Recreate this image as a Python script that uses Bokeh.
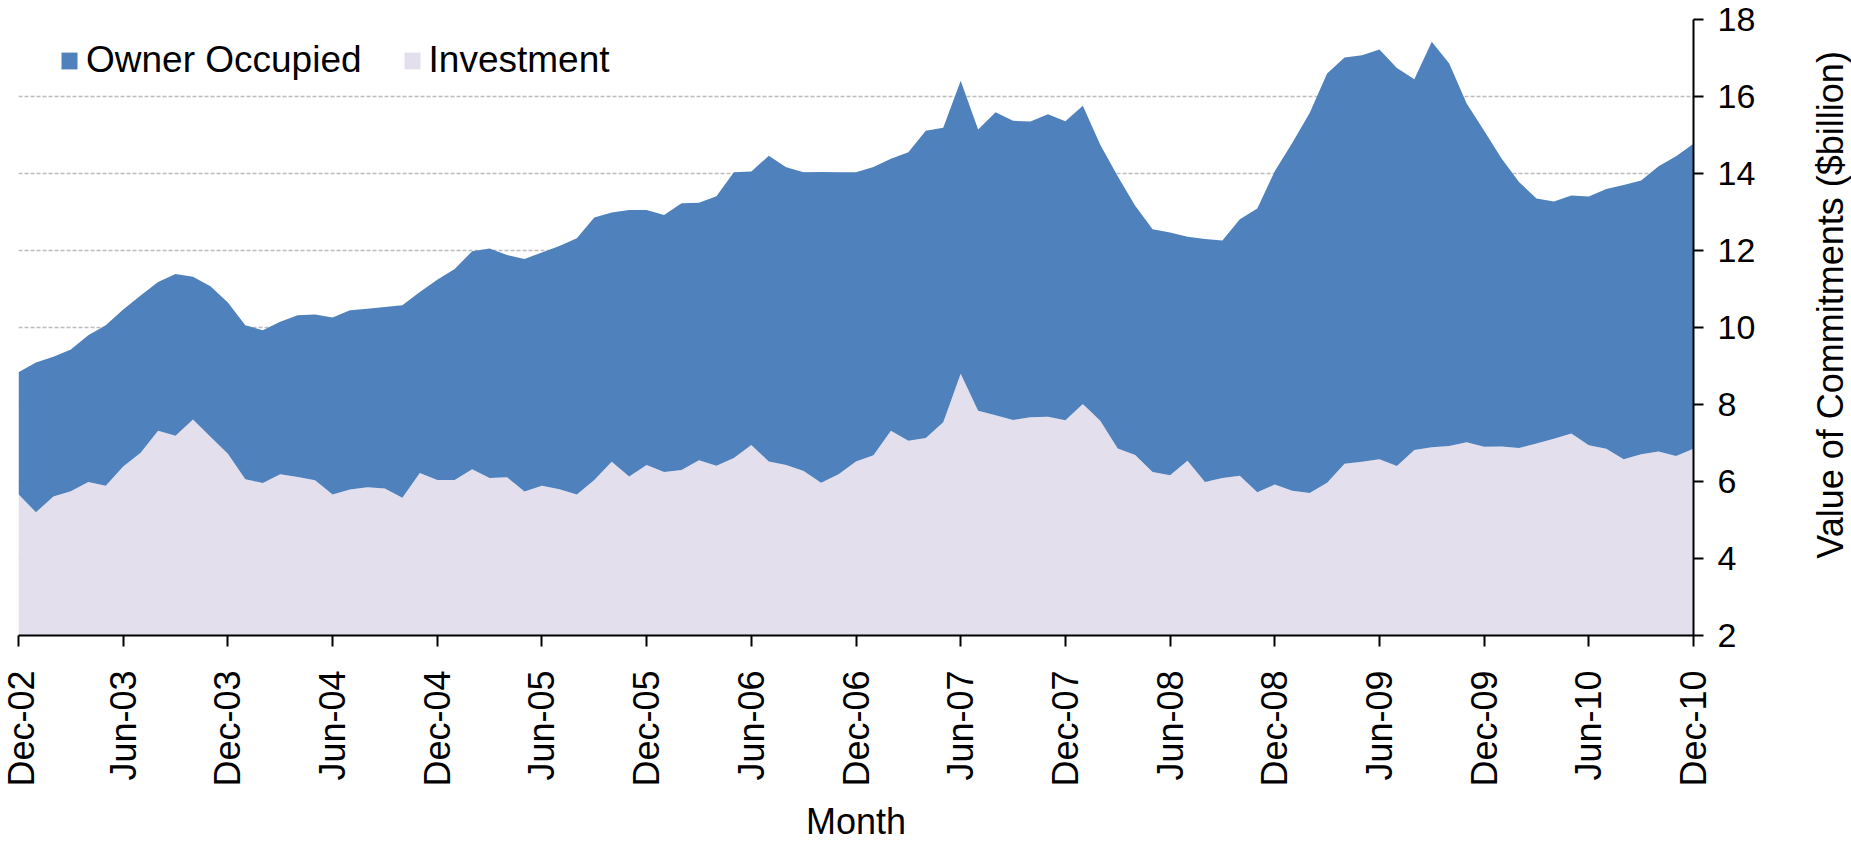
import math
from bokeh.plotting import figure
from bokeh.layouts import row
from bokeh.models import ColumnDataSource, Range1d, FixedTicker, Legend, LegendItem
from bokeh.embed import file_html
from bokeh.resources import INLINE

# ---- data (monthly, Dec-02 .. Dec-10), $billion ----
tick_labels = ["Dec-02", "Jun-03", "Dec-03", "Jun-04", "Dec-04", "Jun-05", "Dec-05",
               "Jun-06", "Dec-06", "Jun-07", "Dec-07", "Jun-08", "Dec-08", "Jun-09",
               "Dec-09", "Jun-10", "Dec-10"]

investment = [
    5.67, 5.20, 5.61, 5.75, 5.99, 5.89, 6.39, 6.75, 7.32, 7.19,
    7.61, 7.16, 6.72, 6.06, 5.96, 6.19, 6.12, 6.03, 5.66, 5.79,
    5.85, 5.82, 5.58, 6.22, 6.04, 6.04, 6.32, 6.09, 6.11, 5.74,
    5.89, 5.80, 5.66, 6.04, 6.51, 6.13, 6.43, 6.25, 6.30, 6.55,
    6.41, 6.61, 6.95, 6.52, 6.43, 6.27, 5.97, 6.19, 6.52, 6.68,
    7.32, 7.06, 7.13, 7.54, 8.80, 7.84, 7.72, 7.60, 7.67, 7.68,
    7.59, 8.01, 7.58, 6.86, 6.69, 6.25, 6.16, 6.54, 5.99, 6.09,
    6.15, 5.72, 5.92, 5.76, 5.70, 5.97, 6.46, 6.51, 6.58, 6.40,
    6.82, 6.89, 6.92, 7.02, 6.90, 6.91, 6.87, 6.99, 7.11, 7.25,
    6.94, 6.85, 6.58, 6.71, 6.78, 6.66, 6.85]

owner_occupied = [
    3.17, 3.89, 3.63, 3.68, 3.81, 4.17, 4.08, 4.08, 3.86, 4.20,
    3.71, 3.91, 3.93, 4.00, 3.97, 3.96, 4.20, 4.31, 4.60, 4.66,
    4.64, 4.71, 5.00, 4.70, 5.20, 5.48, 5.66, 5.96, 5.77, 6.04,
    6.06, 6.32, 6.66, 6.82, 6.48, 6.92, 6.62, 6.67, 6.93, 6.69,
    7.00, 7.42, 7.10, 7.94, 7.73, 7.76, 8.07, 7.84, 7.51, 7.49,
    7.06, 7.49, 7.98, 7.65, 7.61, 7.30, 7.87, 7.77, 7.68, 7.86,
    7.77, 7.75, 7.17, 7.07, 6.47, 6.30, 6.31, 5.82, 6.31, 6.17,
    6.66, 7.37, 8.14, 9.03, 9.87, 10.63, 10.55, 10.56, 10.64, 10.34,
    9.63, 10.53, 9.94, 8.80, 8.21, 7.48, 6.91, 6.36, 6.16, 6.18,
    6.46, 6.75, 7.12, 7.11, 7.41, 7.79, 7.92]

y_ticks = [2, 4, 6, 8, 10, 12, 14, 16, 18]
y_title = "Value of Commitments ($billion)"
x_title = "Month"

month_index = list(range(len(investment)))
tick_positions = [6 * i for i in range(len(tick_labels))]

FONT = "Liberation Sans"
BLUE = "#4f81bd"
LAVENDER = "#e4dfec"

MAIN_W, TITLE_W, H = 1791, 60, 844

source = ColumnDataSource(dict(x=month_index, investment=investment, owner=owner_occupied))

p = figure(width=MAIN_W, height=H, output_backend="svg", toolbar_location=None,
           x_range=Range1d(0, len(investment) - 1), y_range=Range1d(2, 18),
           y_axis_location="right",
           min_border_left=18, min_border_top=19, min_border_right=98, min_border_bottom=209)
p.outline_line_color = None
p.background_fill_color = "white"
p.border_fill_color = "white"

rs = p.varea_stack(stackers=["investment", "owner"], x="x",
                   color=[LAVENDER, BLUE], source=source)

# grid
p.xgrid.visible = False
p.ygrid.ticker = FixedTicker(ticks=y_ticks)
p.ygrid.grid_line_color = "#bdbdbd"
p.ygrid.grid_line_dash = "4 2"
p.ygrid.grid_line_width = 1.5

# x axis
xa = p.xaxis[0]
xa.ticker = FixedTicker(ticks=tick_positions)
xa.major_label_overrides = {pos: lab for pos, lab in zip(tick_positions, tick_labels)}
xa.major_label_orientation = math.pi / 2
xa.major_label_text_font = FONT
xa.major_label_text_font_size = "36px"
xa.major_label_text_color = "black"
xa.major_label_standoff = 24
xa.axis_line_color = "black"
xa.axis_line_width = 2
xa.major_tick_line_color = "black"
xa.major_tick_line_width = 2
xa.major_tick_out = 11
xa.major_tick_in = 0
xa.minor_tick_line_color = None
xa.axis_label = x_title
xa.axis_label_text_font = FONT
xa.axis_label_text_font_size = "36px"
xa.axis_label_text_font_style = "normal"
xa.axis_label_text_color = "black"
xa.axis_label_standoff = 11

# y axis (right)
ya = p.yaxis[0]
ya.ticker = FixedTicker(ticks=y_ticks)
ya.major_label_text_font = FONT
ya.major_label_text_font_size = "34px"
ya.major_label_text_color = "black"
ya.major_label_standoff = 14
ya.axis_line_color = "black"
ya.axis_line_width = 2
ya.major_tick_line_color = "black"
ya.major_tick_line_width = 2
ya.major_tick_out = 10
ya.major_tick_in = 0
ya.minor_tick_line_color = None

legend = Legend(items=[LegendItem(label="Owner Occupied", renderers=[rs[1]]),
                       LegendItem(label="Investment", renderers=[rs[0]])],
                orientation="horizontal", location=(41, 554),
                glyph_width=20, glyph_height=21, label_standoff=7, spacing=40,
                padding=0, margin=0, border_line_alpha=0, background_fill_alpha=0,
                label_text_font=FONT, label_text_font_size="37px",
                label_text_color="black")
p.add_layout(legend, "center")

# narrow strip on the right holding the axis title (reads bottom-to-top)
t = figure(width=TITLE_W, height=H, output_backend="svg", toolbar_location=None,
           x_range=Range1d(0, 1), y_range=Range1d(0, H),
           min_border=0, min_border_left=0, min_border_right=0,
           min_border_top=0, min_border_bottom=0)
t.axis.visible = False
t.grid.visible = False
t.outline_line_color = None
t.background_fill_color = "white"
t.border_fill_color = "white"
t.text(x=[0.65], y=[H - 391], text=[y_title], angle=math.pi / 2,
       text_align="center", text_baseline="middle",
       text_font={"value": FONT}, text_font_size={"value": "36px"}, text_color="black")

layout = row(p, t, spacing=0)
open("out.html", "w").write(file_html(layout, INLINE))
